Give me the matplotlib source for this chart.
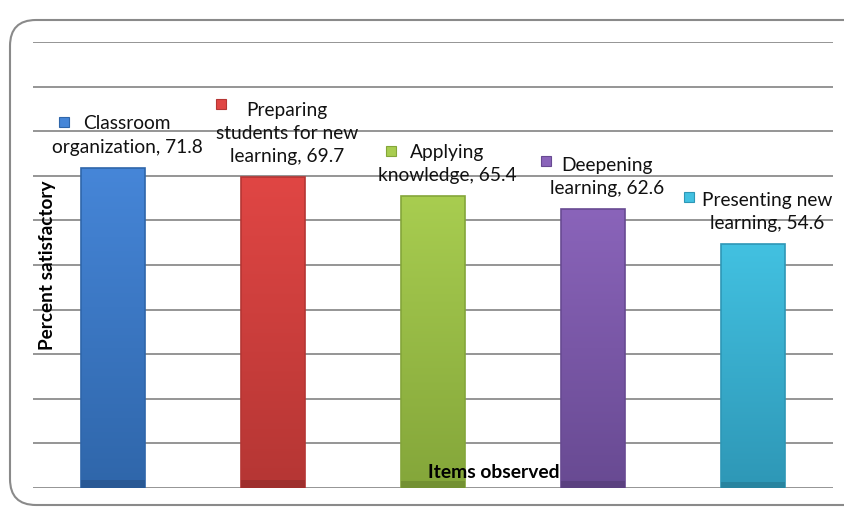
import numpy as np
import matplotlib.pyplot as plt
import matplotlib.transforms as mtransforms
from matplotlib.patches import FancyBboxPatch
from matplotlib.colors import LinearSegmentedColormap

categories = ['Classroom\norganization', 'Preparing\nstudents for new\nlearning',
              'Applying\nknowledge', 'Deepening\nlearning', 'Presenting new\nlearning']
values = [71.8, 69.7, 65.4, 62.6, 54.6]
top_colors = ['#4686d8', '#e04644', '#a8cd50', '#8a64ba', '#42c1e1']
bottom_colors = ['#2f66aa', '#b53634', '#84a63a', '#684a92', '#2e97b6']

plt.rcParams['font.family'] = ['Lato', 'DejaVu Sans']

fig = plt.figure(figsize=(8.44, 5.08), dpi=100)
ax = fig.add_axes([33 / 844, 1 - 488 / 508, 800 / 844, 446 / 508])

# rounded frame around the chart
frame = FancyBboxPatch((10, 3), 860, 485, boxstyle='round,pad=0,rounding_size=26',
                       transform=None, fill=False, edgecolor='#8a8a8a', lw=1.5,
                       clip_on=False)
fig.patches.append(frame)

ax.set_yticks(np.arange(0, 101, 10))
ax.grid(axis='y', color='#8c8c8c', lw=1.3)
ax.set_axisbelow(True)
ax.tick_params(left=False, bottom=False, labelleft=False, labelbottom=False)
for s in ax.spines.values():
    s.set_visible(False)

x = np.arange(len(values))
bars = ax.bar(x, values, width=0.4, color='none', edgecolor='none', zorder=2)
grad = np.linspace(0, 1, 256).reshape(-1, 1)
for b, c0, c1 in zip(bars, top_colors, bottom_colors):
    cmap = LinearSegmentedColormap.from_list('g', [c1, c0])
    bx, bw, bh = b.get_x(), b.get_width(), b.get_height()
    im = ax.imshow(grad, cmap=cmap, aspect='auto', origin='lower',
                   extent=(bx, bx + bw, 0, bh), zorder=2)
    im.set_clip_path(b)
    ax.bar(bx + bw / 2, bh, width=bw, color='none', edgecolor=c1, lw=1.2, zorder=3)
    ax.bar(bx + bw / 2, bh * 0.025, width=bw, color='black', alpha=0.12, zorder=3)
ax.set_xlim(-0.5, len(values) - 0.5)
ax.set_ylim(0, 100)

# labels with little colored squares (offsets in pixels from bar top)
label_dx = 14
square_off = [(-49, 46), (-52, 73), (-42, 45), (-47, 48), (-64, 47)]
for i, (cat, v) in enumerate(zip(categories, values)):
    ax.annotate(f'{cat}, {v}', (x[i], v), xytext=(label_dx, 12),
                textcoords='offset pixels', ha='center', va='bottom',
                multialignment='center', fontsize=13.8, linespacing=1.45,
                color='#111111')
    shift = mtransforms.Affine2D().translate(*square_off[i])
    ax.plot([x[i]], [v], marker='s', ms=7.5, color=top_colors[i],
            mec=bottom_colors[i], mew=0.8, clip_on=False, zorder=4,
            transform=ax.transData + shift)

ax.text(15 / 800, 0.5, 'Percent satisfactory', transform=ax.transAxes, rotation=90,
        ha='center', va='center', fontsize=13.7, fontweight='bold')
ax.text(461 / 800, 16 / 446, 'Items observed', transform=ax.transAxes,
        ha='center', va='center', fontsize=13.9, fontweight='bold')

fig.savefig('out.png', dpi=100)
